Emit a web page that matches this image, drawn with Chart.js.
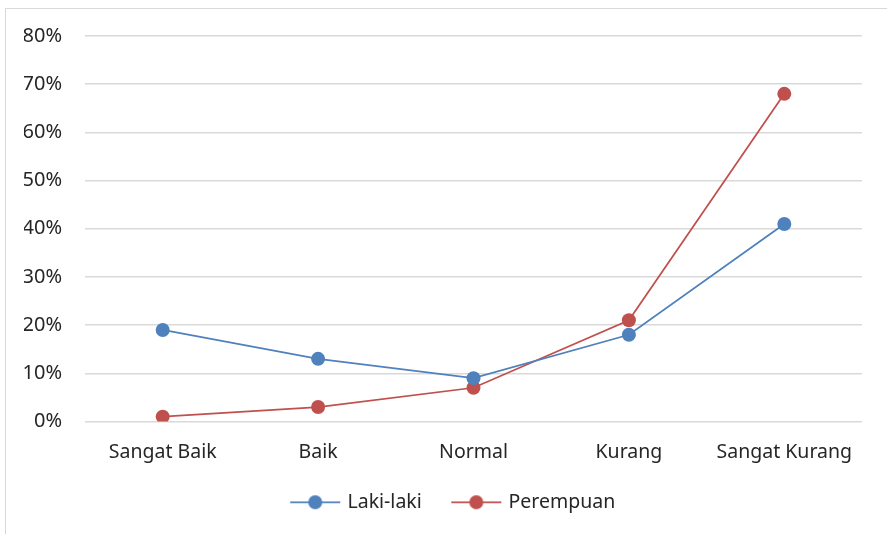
<!DOCTYPE html>
<html>
<head>
<meta charset="utf-8">
<script src="https://cdn.jsdelivr.net/npm/chart.js@4/dist/chart.umd.min.js"></script>
<style>
  html, body { margin: 0; padding: 0; background: #fff; }
  #wrap { position: relative; width: 887px; height: 534px; overflow: hidden; }
  #frame { position: absolute; left: 5px; top: 8px; width: 900px; height: 560px;
           border: 1px solid #d9d9d9; box-sizing: border-box; }
  #c { position: absolute; left: 0; top: 0; }
</style>
</head>
<body>
<div id="wrap">
  <div id="frame"></div>
  <canvas id="c" width="887" height="534"></canvas>
</div>
<script>
const categories = ['Sangat Baik', 'Baik', 'Normal', 'Kurang', 'Sangat Kurang'];
const lakiLaki = [19, 13, 9, 18, 41];
const perempuan = [1, 3, 7, 21, 68];
const yTicks = [0, 10, 20, 30, 40, 50, 60, 70, 80];

const BLUE = '#4f81bd';
const RED = '#c0504d';
const TEXT = '#262626';
const FONT = "'Noto Sans', sans-serif";

// legend swatch: short line with a dot in the middle, with blank space on the left
const SW_LEFT = 22;
function swatch(color) {
  const cv = document.createElement('canvas');
  cv.width = 52 + SW_LEFT; cv.height = 16;
  const g = cv.getContext('2d');
  g.strokeStyle = color; g.lineWidth = 1.75;
  g.beginPath(); g.moveTo(SW_LEFT + 1, 8); g.lineTo(SW_LEFT + 51, 8); g.stroke();
  g.fillStyle = color;
  g.beginPath(); g.arc(SW_LEFT + 26, 8, 7, 0, Math.PI * 2); g.fill();
  return cv;
}

new Chart(document.getElementById('c'), {
  type: 'line',
  data: {
    labels: categories,
    datasets: [
      { label: 'Laki-laki', data: lakiLaki, borderColor: BLUE, backgroundColor: BLUE,
        borderWidth: 1.75, pointRadius: 7, pointHoverRadius: 7, pointBorderWidth: 0, tension: 0 },
      { label: 'Perempuan', data: perempuan, borderColor: RED, backgroundColor: RED,
        borderWidth: 1.75, pointRadius: 7, pointHoverRadius: 7, pointBorderWidth: 0, tension: 0 }
    ]
  },
  options: {
    responsive: false,
    animation: false,
    layout: { padding: { left: 24, right: 25, top: 36, bottom: 12 } },
    plugins: {
      tooltip: { enabled: false },
      legend: {
        position: 'bottom',
        labels: {
          font: { family: FONT, size: 19.5 },
          color: TEXT,
          padding: 10,
          usePointStyle: true,
          pointStyleWidth: 45 + SW_LEFT,
          boxHeight: 16,
          generateLabels: (chart) => chart.data.datasets.map((ds, i) => ({
            text: ds.label,
            fillStyle: ds.borderColor,
            strokeStyle: ds.borderColor,
            fontColor: TEXT,
            lineWidth: 0,
            pointStyle: swatch(ds.borderColor),
            datasetIndex: i,
            hidden: false
          }))
        }
      }
    },
    scales: {
      x: {
        offset: true,
        grid: { display: false },
        border: { display: false },
        ticks: { font: { family: FONT, size: 19.5 }, color: TEXT, padding: 11, maxRotation: 0 },
        afterFit: (s) => { s.height = 61; }
      },
      y: {
        min: 0, max: 80,
        afterBuildTicks: (s) => { s.ticks = yTicks.map(v => ({ value: v })); },
        grid: { color: '#d9d9d9', lineWidth: 1.5, drawTicks: false },
        border: { display: false },
        ticks: { font: { family: FONT, size: 20 }, color: TEXT, padding: 23,
                 callback: (v) => v + '%' },
        afterFit: (s) => { s.width = 61; }
      }
    }
  }
});
</script>
</body>
</html>
